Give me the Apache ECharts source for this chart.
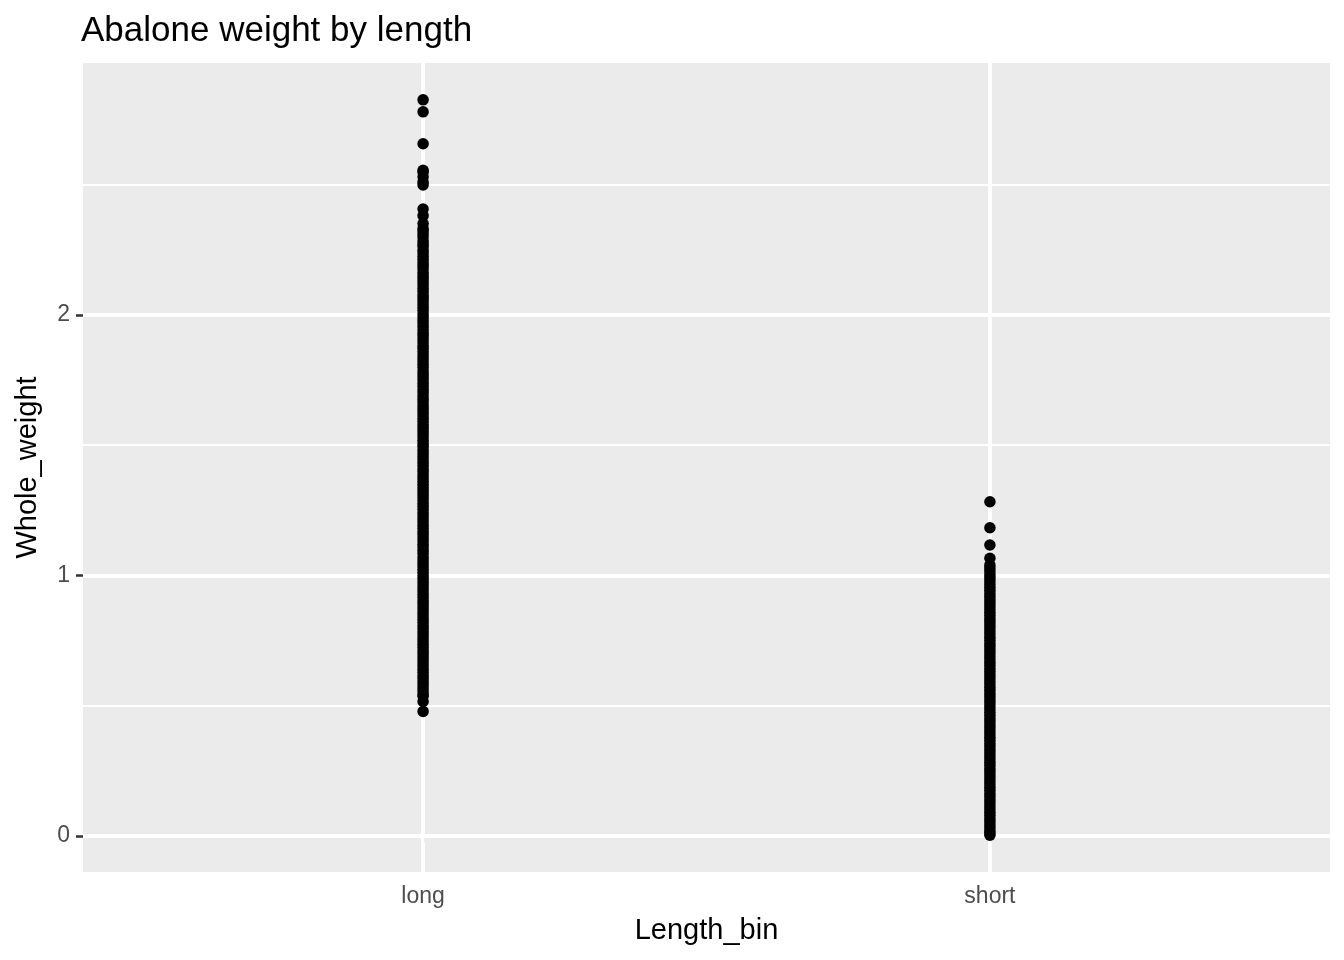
<!DOCTYPE html>
<html>
<head>
<meta charset="utf-8">
<title>Abalone weight by length</title>
<script src="https://cdn.jsdelivr.net/npm/echarts@6/dist/echarts.min.js"></script>
<style>
  html, body { margin: 0; padding: 0; background: #ffffff; }
  #chart { width: 1344px; height: 960px; }
</style>
</head>
<body>
<div id="chart"></div>
<script>
// categories on the x axis
const lengthBins = ['long', 'short']

// Whole_weight, one array per bin
const longWeights = [
  2.8255, 2.7795, 2.657, 2.555, 2.548, 2.5305, 2.51, 2.499, 2.4065, 2.381, 2.3505,
  2.331, 2.3225, 2.3105, 2.2985, 2.2845, 2.2725, 2.2635, 2.2495, 2.2385, 2.2255,
  2.2135, 2.2015, 2.1895, 2.1775, 2.163, 2.1505, 2.1395, 2.1275, 2.1155, 2.1025,
  2.0905, 2.0775, 2.0665, 2.0545, 2.0415, 2.0295, 2.0175, 2.0045, 1.9925, 1.9805,
  1.9685, 1.9565, 1.9435, 1.9315, 1.9205, 1.9085, 1.8955, 1.8825, 1.8715, 1.8595,
  1.8465, 1.8345, 1.8225, 1.8105, 1.7985, 1.7855, 1.7735, 1.7625, 1.7505, 1.7375,
  1.7255, 1.7135, 1.7015, 1.6885, 1.6765, 1.6655, 1.6525, 1.6405, 1.6285, 1.6165,
  1.6035, 1.5915, 1.5795, 1.5675, 1.5555, 1.5435, 1.5315, 1.5185, 1.5065, 1.4955,
  1.4825, 1.4705, 1.4585, 1.4465, 1.4345, 1.4225, 1.4095, 1.3985, 1.3855, 1.3735,
  1.3615, 1.3495, 1.3375, 1.3255, 1.3135, 1.3015, 1.2895, 1.2765, 1.2655, 1.2535,
  1.2405, 1.2285, 1.2165, 1.2045, 1.1925, 1.1805, 1.1685, 1.1565, 1.1445, 1.1325,
  1.1195, 1.1085, 1.0965, 1.0845, 1.0715, 1.0595, 1.0475, 1.0355, 1.0235, 1.0115,
  0.9995, 0.9875, 0.9755, 0.9635, 0.9515, 0.9395, 0.9275, 0.9155, 0.9035, 0.8915,
  0.8795, 0.8675, 0.8555, 0.8435, 0.8315, 0.8195, 0.8075, 0.7955, 0.7835, 0.7715,
  0.7595, 0.7475, 0.7355, 0.7235, 0.7115, 0.6995, 0.6875, 0.6755, 0.6635, 0.6515,
  0.6395, 0.6275, 0.6155, 0.6035, 0.5915, 0.5795, 0.5675, 0.5555, 0.5435, 0.5355,
  0.5155, 0.4775,
]
const shortWeights = [
  1.2825, 1.1825, 1.1165, 1.0655, 1.0395, 1.0285, 1.0165, 1.0035, 0.9915, 0.9795,
  0.9665, 0.9545, 0.9425, 0.9305, 0.9185, 0.9065, 0.8945, 0.8825, 0.8705, 0.8585,
  0.8465, 0.8345, 0.8225, 0.8105, 0.7985, 0.7865, 0.7745, 0.7625, 0.7505, 0.7385,
  0.7265, 0.7145, 0.7025, 0.6905, 0.6785, 0.6665, 0.6545, 0.6425, 0.6305, 0.6185,
  0.6065, 0.5945, 0.5825, 0.5705, 0.5585, 0.5465, 0.5345, 0.5225, 0.5105, 0.4985,
  0.4865, 0.4745, 0.4625, 0.4505, 0.4385, 0.4265, 0.4145, 0.4025, 0.3905, 0.3785,
  0.3665, 0.3545, 0.3425, 0.3305, 0.3185, 0.3065, 0.2945, 0.2825, 0.2705, 0.2585,
  0.2465, 0.2345, 0.2225, 0.2105, 0.1985, 0.1865, 0.1745, 0.1625, 0.1505, 0.1385,
  0.1265, 0.1145, 0.1025, 0.0905, 0.0785, 0.0665, 0.0545, 0.0425, 0.0305, 0.0185,
  0.0105, 0.002,
]

// axis ticks
const yMajorTicks = [0, 1, 2]
const yMinorTicks = [0.5, 1.5, 2.5]
const xTicks = [1, 2]

const fontFamily = "'Liberation Sans', Arial, Helvetica, sans-serif"

// ggplot-like expanded ranges
const yMin = -0.139
const yMax = 2.967

function gridLines() {
  const major = { color: '#ffffff', width: 3.8, type: 'solid' }
  const minor = { color: '#ffffff', width: 1.9, type: 'solid' }
  return [
    ...yMinorTicks.map((v) => ({ yAxis: v, lineStyle: minor })),
    ...yMajorTicks.map((v) => ({ yAxis: v, lineStyle: major })),
    ...xTicks.map((v) => ({ xAxis: v, lineStyle: major })),
  ]
}

const groups = [longWeights, shortWeights]
const points = []
groups.forEach((arr, i) => {
  arr.forEach((w) => points.push([i + 1, w]))
})

const chart = echarts.init(document.getElementById('chart'))
chart.setOption({
  animation: false,
  title: {
    text: 'Abalone weight by length',
    left: 81,
    top: 14,
    padding: 0,
    textStyle: { fontFamily, fontSize: 35, fontWeight: 'normal', color: '#000000' },
  },
  grid: {
    left: 83,
    right: 14,
    top: 63,
    bottom: 88,
    show: true,
    backgroundColor: '#EBEBEB',
    borderWidth: 0,
  },
  xAxis: {
    type: 'value',
    min: 0.4,
    max: 2.6,
    name: 'Length_bin',
    nameLocation: 'middle',
    nameGap: 44,
    nameTextStyle: { fontFamily, fontSize: 29, color: '#000000' },
    axisLine: { show: false },
    axisTick: {
      show: true,
      customValues: xTicks,
      length: 7,
      lineStyle: { color: '#333333', width: 2.5 },
    },
    axisLabel: {
      customValues: xTicks,
      margin: 13,
      fontFamily,
      fontSize: 23,
      color: '#4D4D4D',
      formatter: (v) => lengthBins[Math.round(v) - 1] ?? '',
    },
    splitLine: { show: false },
  },
  yAxis: {
    type: 'value',
    min: yMin,
    max: yMax,
    name: 'Whole_weight',
    nameLocation: 'middle',
    nameGap: 41,
    nameTextStyle: { fontFamily, fontSize: 29, color: '#000000' },
    axisLine: { show: false },
    axisTick: {
      show: true,
      customValues: yMajorTicks,
      length: 7,
      lineStyle: { color: '#333333', width: 2.5 },
    },
    axisLabel: {
      customValues: yMajorTicks,
      margin: 13,
      fontFamily,
      fontSize: 23,
      color: '#4D4D4D',
    },
    splitLine: { show: false },
  },
  series: [
    {
      // panel grid lines
      type: 'scatter',
      z: 1,
      silent: true,
      data: [],
      markLine: {
        z: 1,
        silent: true,
        symbol: 'none',
        label: { show: false },
        animation: false,
        data: gridLines(),
      },
    },
    {
      type: 'scatter',
      z: 3,
      symbol: 'circle',
      symbolSize: 11.5,
      itemStyle: { color: '#000000', opacity: 1 },
      data: points,
    },
  ],
})
</script>
</body>
</html>
